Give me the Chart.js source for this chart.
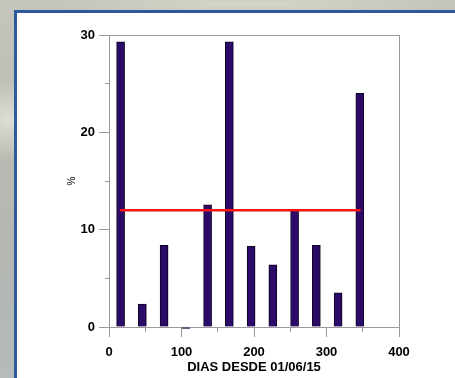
<!DOCTYPE html>
<html>
<head>
<meta charset="utf-8">
<script src="https://cdn.jsdelivr.net/npm/chart.js@4/dist/chart.umd.min.js"></script>
<style>
  html, body { margin:0; padding:0; width:455px; height:378px; overflow:hidden; }
  body {
    background:
      radial-gradient(ellipse 60px 40px at 8px 120px, rgba(235,235,225,0.7), rgba(235,235,225,0) 100%),
      radial-gradient(ellipse 200px 12px at 250px 4px, rgba(220,218,205,0.8), rgba(220,218,205,0) 100%),
      linear-gradient(180deg, #c4c5bb 0%, #b9bbb3 40%, #b3b6b1 70%, #b6bbbb 100%);
  }
  #panel {
    position:absolute; left:14px; top:10px; right:0; bottom:0;
    background:#ffffff;
    border-left:3px solid #2c5a9c; border-top:3px solid #2c5a9c;
  }
  #wrap { position:absolute; left:0; top:0; width:455px; height:378px; }
</style>
</head>
<body>
<div id="panel"></div>
<div id="wrap"><canvas id="c" width="455" height="378"></canvas></div>
<script>
// Data
const days   = [16, 46, 76, 106, 136, 166, 196, 226, 256, 286, 316, 346];
const values = [29.3, 2.35, 8.4, -0.15, 12.55, 29.3, 8.3, 6.4, 12.0, 8.4, 3.5, 24.0];
const meanLineDays  = [15, 347];
const meanLineValue = [12, 12];
const yMajorTicks = [0, 10, 20, 30];
const xMajorTicks = [0, 100, 200, 300, 400];

const AXIS = '#9a9a9a';
const LABEL_FONT = { family: 'Liberation Sans, Arial, sans-serif', size: 13, weight: 'bold' };

const barData  = days.map((d, i) => ({ x: d, y: values[i] }));
const lineData = meanLineDays.map((d, i) => ({ x: d, y: meanLineValue[i] }));

const fixW = w => (s => { s.width = w; });
const fixH = h => (s => { s.height = h; });

new Chart(document.getElementById('c'), {
  data: {
    datasets: [
      {
        type: 'line', data: lineData, borderColor: '#ff1414', borderWidth: 2.5,
        pointRadius: 0, fill: false, xAxisID: 'x', yAxisID: 'y', order: 0
      },
      {
        type: 'bar', data: barData, backgroundColor: '#2b0a68', borderColor: '#0c0320',
        borderWidth: 1, barThickness: 8, clip: false, xAxisID: 'x', yAxisID: 'y', order: 1
      }
    ]
  },
  options: {
    responsive: false,
    animation: false,
    layout: { padding: { left: 0, top: 35, right: 56, bottom: 0 } },
    plugins: { legend: { display: false }, tooltip: { enabled: false } },
    scales: {
      x: {
        type: 'linear', position: 'bottom', min: 0, max: 400, weight: 1, offset: false,
        afterBuildTicks: s => { s.ticks = xMajorTicks.map(v => ({ value: v })); },
        afterFit: fixH(51),
        grid: { offset: false, drawOnChartArea: false, drawTicks: true, tickLength: 10, color: AXIS, tickColor: AXIS, tickWidth: 1 },
        border: { display: true, color: AXIS, width: 1 },
        ticks: { color: '#000', font: LABEL_FONT, padding: 8, maxRotation: 0, autoSkip: false },
        title: { display: true, text: 'DIAS DESDE 01/06/15', color: '#000',
                 font: { family: 'Liberation Sans, Arial, sans-serif', size: 13, weight: 'bold' },
                 padding: { top: 0, bottom: 3 } }
      },
      xMinor: {
        type: 'linear', position: 'bottom', min: 0, max: 400, weight: 0, offset: false,
        afterBuildTicks: s => { s.ticks = [50, 150, 250, 350].map(v => ({ value: v })); },
        afterFit: fixH(0),
        grid: { offset: false, drawOnChartArea: false, drawTicks: true, tickLength: 5, color: AXIS, tickColor: AXIS },
        border: { display: false },
        ticks: { display: false }
      },
      xTop: {
        type: 'linear', position: 'top', min: 0, max: 400, offset: false,
        afterFit: fixH(0),
        grid: { display: false },
        border: { display: true, color: AXIS, width: 1 },
        ticks: { display: false }
      },
      y: {
        type: 'linear', position: 'left', min: 0, max: 30, weight: 1,
        afterBuildTicks: s => { s.ticks = yMajorTicks.map(v => ({ value: v })); },
        afterFit: fixW(109),
        grid: { drawOnChartArea: false, drawTicks: true, tickLength: 10, color: AXIS, tickColor: AXIS },
        border: { display: true, color: AXIS, width: 1 },
        ticks: { color: '#000', font: LABEL_FONT, padding: 4 },
        title: { display: true, text: '%', color: '#000',
                 font: { family: 'Liberation Sans, Arial, sans-serif', size: 10 },
                 padding: { top: 66, bottom: 0 } }
      },
      yMinor: {
        type: 'linear', position: 'left', min: 0, max: 30, weight: 0,
        afterBuildTicks: s => { s.ticks = [5, 15, 25].map(v => ({ value: v })); },
        afterFit: fixW(0),
        grid: { drawOnChartArea: false, drawTicks: true, tickLength: 4, color: AXIS, tickColor: AXIS },
        border: { display: false },
        ticks: { display: false }
      },
      yRight: {
        type: 'linear', position: 'right', min: 0, max: 30,
        afterFit: fixW(0),
        grid: { display: false },
        border: { display: true, color: AXIS, width: 1 },
        ticks: { display: false }
      }
    }
  }
});
</script>
</body>
</html>
